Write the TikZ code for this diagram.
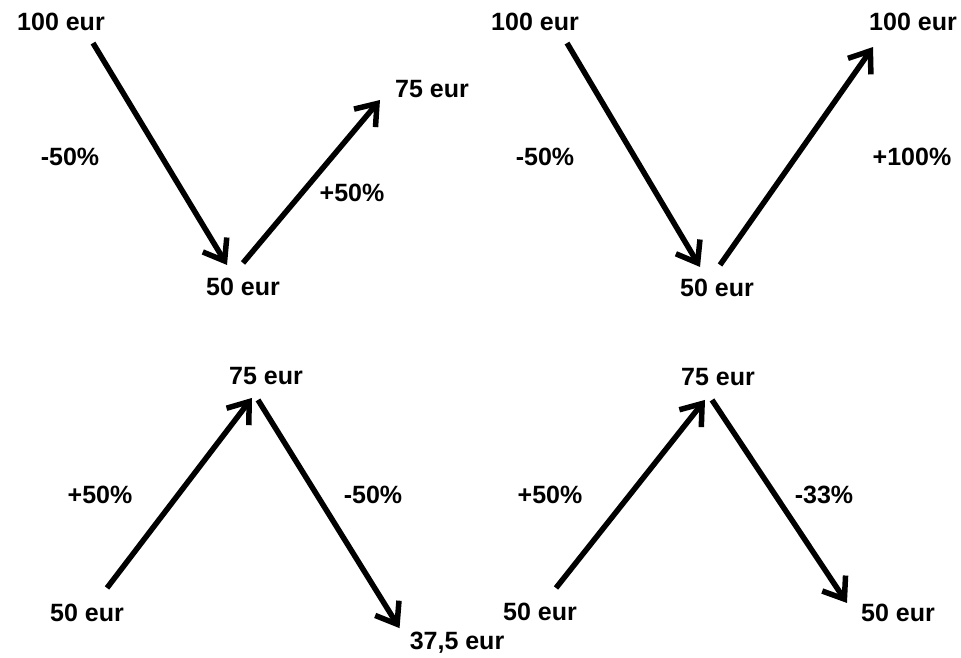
\documentclass[tikz,border=0pt]{standalone}
\usepackage{fontspec}
\setmainfont{Liberation Sans}
\usepackage{tikz}
\usetikzlibrary{arrows.meta,positioning,calc}
\tikzset{
  eur/.style={inner sep=0pt,font=\fontsize{25}{30}\selectfont\bfseries},
  pct/.style={inner sep=0pt,font=\fontsize{25}{30}\selectfont\bfseries}
}

\begin{document}
\begin{tikzpicture}[x=1pt,y=-1pt]
          \useasboundingbox (0,0) rectangle (961,657);
          \begin{scope}[every node/.style={eur}]
              % top left
              \node (a100) at (61,22)  {100 eur};
              \node (a50)  at (243,287) {50 eur};
              \node (a75)  at (432,89) {75 eur};
              \node[pct] (am50) at (70,157) {-50\%};
              \node[pct] (ap50) at (352,193) {+50\%};
              % top right
              \node (b100) at (535,22)  {100 eur};
              \node (b50)  at (717,288) {50 eur};
              \node (b100e) at (913,22) {100 eur};
              \node[pct] (bm50) at (545,157) {-50\%};
              \node[pct] (bp100) at (912,157) {+100\%};
              % bottom left
              \node (c50)  at (87,613)  {50 eur};
              \node (c75)  at (266,376) {75 eur};
              \node (c375) at (457,643) {37,5 eur};
              \node[pct] (cp50) at (100,495) {+50\%};
              \node[pct] (cm50) at (373,495) {-50\%};
              % bottom right
              \node (d50)  at (540,612) {50 eur};
              \node (d75)  at (718,377) {75 eur};
              \node (d50e) at (898,613) {50 eur};
              \node[pct] (dp50) at (550,495) {+50\%};
              \node[pct] (dm33) at (824,495) {-33\%};
          \end{scope}

          \begin{scope}[>={Straight Barb[length=19pt,width=28pt]},
                        every edge/.style={draw=black,line width=5.5pt}]
              \path [->] ([xshift=32pt,yshift=-12pt]a100.south) edge ([xshift=-16pt,yshift=13pt]a50.north);
              \path [->] ([yshift=15pt]a50.north) edge ([xshift=-15pt,yshift=-11pt]a75.west);

              \path [->] ([xshift=32pt,yshift=-12pt]b100.south) edge ([xshift=-17pt,yshift=12pt]b50.north);
              \path [->] ([xshift=3pt,yshift=14pt]b50.north) edge ([xshift=4pt,yshift=-16pt]b100e.south west);

              \path [->] ([xshift=20pt,yshift=16pt]c50.north) edge ([xshift=-14pt,yshift=-13pt]c75.south);
              \path [->] ([xshift=-8pt,yshift=-15pt]c75.south) edge ([xshift=-10pt,yshift=4pt]c375.north west);

              \path [->] ([xshift=16pt,yshift=15pt]d50.north) edge ([xshift=-13pt,yshift=-14pt]d75.south);
              \path [->] ([xshift=-6pt,yshift=-14pt]d75.south) edge ([xshift=-14pt,yshift=1pt]d50e.north west);
          \end{scope}
\end{tikzpicture}
\end{document}
